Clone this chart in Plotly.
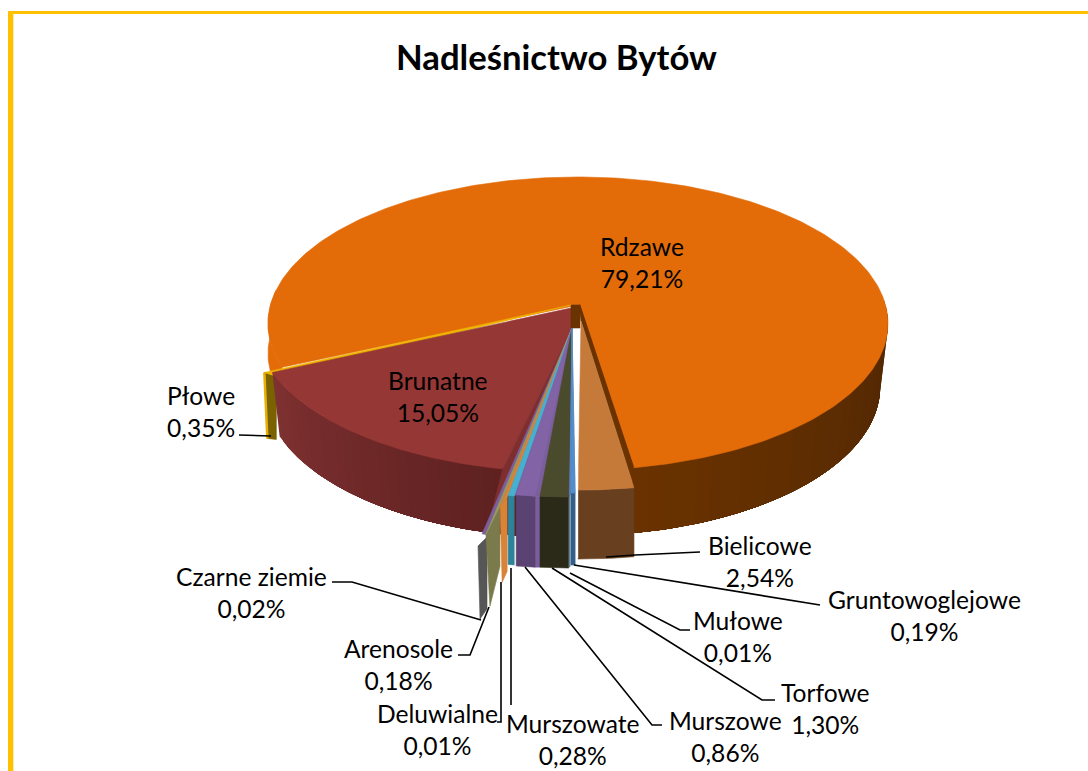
import math
import plotly.graph_objects as go

NAMES = ["Rdzawe", "Bielicowe", "Gruntowoglejowe", "Mułowe", "Torfowe", "Murszowe",
         "Murszowate", "Deluwialne", "Arenosole", "Czarne ziemie", "Brunatne", "Płowe"]
SHARES = [79.21, 2.54, 0.19, 0.01, 1.30, 0.86, 0.28, 0.01, 0.18, 0.02, 15.05, 0.35]

TOP = dict(zip(NAMES, ["#E36C09", "#C67A3A", "#4F8FCC", "#4F8FCC", "#4A4A2C", "#8263A6",
                       "#45B0CF", "#D98336", "#9A9A5C", "#5F5F5F", "#953735", "#F0B400"]))
SIDE = dict(zip(NAMES, ["#5E2E04", "#69401F", "#345F88", "#345F88", "#2B2A18", "#5A4273",
                        "#2E8299", "#D98336", "#7A7A4C", "#565656", "#6E2929", "#7A6200"]))

# screen placement: (rim dx, rim dy, apex dx, apex dy, wall dx, wall dy, height outer, height inner, bottom dx)
PLACE = {
    "Bielicowe":       (1, 20, 3, 16, 0, 0, 69, 69, 0),
    "Gruntowoglejowe": (-2, 23, -6, 23, 0, 0, 72, 72, 0),
    "Mułowe":          (-3, 25, -6, 23, 0, 0, 72, 72, 0),
    "Torfowe":         (-4, 27, -6, 23, 0, 0, 71, 71, 0),
    "Murszowe":        (-9, 27, -6, 23, 0, 0, 71, 71, 0),
    "Murszowate":      (-11, 28, -6, 23, 0, 0, 69, 69, 0),
    "Deluwialne":      (-19, 39, -6, 23, 7, -9, 76, 74, 2),
    "Arenosole":       (-33, 67, -6, 23, 14, -28, 72, 60, 4),
    "Czarne ziemie":   (-37, 79, -6, 23, 9, -9, 73, 72, 2),
    "Płowe":           (-20, 2, -7, 0, 12, 4, 66, 63, 3),
}
NO_TOP = {"Czarne ziemie"}

CX, AY, RX, RY, K = 578, 305, 307.5, 144.2, 0.1263
END_OF_FIRST = 171.0
DEPTH = 63

LABELS = [("Rdzawe<br>79,21%", 642, 262), ("Brunatne<br>15,05%", 438, 396),
          ("Płowe<br>0,35%", 201, 411), ("Bielicowe<br>2,54%", 760, 561),
          ("Gruntowoglejowe<br>0,19%", 924, 615), ("Mułowe<br>0,01%", 738, 636),
          ("Torfowe<br>1,30%", 825, 708), ("Murszowe<br>0,86%", 725, 736),
          ("Murszowate<br>0,28%", 572, 739), ("Deluwialne<br>0,01%", 437, 729),
          ("Arenosole<br>0,18%", 398, 664), ("Czarne ziemie<br>0,02%", 251, 592)]

LEADERS = [[(239, 435), (271, 436)],
           [(606, 557), (635, 555), (700, 552)],
           [(574, 565), (820, 605)],
           [(570, 573), (680, 630), (690, 630)],
           [(552, 568), (762, 700), (775, 700)],
           [(525, 567), (652, 725), (662, 725)],
           [(511, 568), (511, 705)],
           [(501, 582), (501, 722), (497, 722)],
           [(489, 607), (470, 655), (458, 655)],
           [(481, 620), (352, 582), (332, 582)]]


def rim(theta):
    a = math.radians(theta)
    u, v = math.sin(a), math.cos(a)
    s = 1 / (1 + K * v)
    return CX + RX * u * s, AY - RY * v * s


def base(theta):
    a = math.radians(theta)
    u, v = math.sin(a), math.cos(a)
    s = 1 / (1 + K * v)
    return CX + RX * u * s * 0.975, AY - RY * v * s * 0.96 + DEPTH * s


def mix(c0, c1, t):
    p = [int(c0[i:i + 2], 16) for i in (1, 3, 5)]
    q = [int(c1[i:i + 2], 16) for i in (1, 3, 5)]
    return "#%02X%02X%02X" % tuple(round(a + (b - a) * t) for a, b in zip(p, q))


def arc(f, t0, t1, n=None):
    n = n or max(2, int(abs(t1 - t0) * 2))
    return [f(t0 + (t1 - t0) * i / n) for i in range(n + 1)]


fig = go.Figure()


def poly(pts, color, name, lw=0.6):
    fig.add_trace(go.Scatter(x=[p[0] for p in pts] + [pts[0][0]], y=[p[1] for p in pts] + [pts[0][1]],
                             mode="lines", fill="toself", fillcolor=color,
                             line=dict(color=color, width=lw), name=name, hoverinfo="name",
                             showlegend=False))


def stroke(pts, color, width, name):
    fig.add_trace(go.Scatter(x=[p[0] for p in pts], y=[p[1] for p in pts], mode="lines",
                             line=dict(color=color, width=width), name=name, hoverinfo="skip",
                             showlegend=False))


# angular extents, clockwise from the back of the pie
spans = {}
start = END_OF_FIRST - SHARES[0] * 3.6
cur = start
for n, sh in zip(NAMES, SHARES):
    spans[n] = (cur, cur + sh * 3.6)
    cur += sh * 3.6


def gradient_side(name, t0, t1, c0, c1, shift=(0, 0), strips=30):
    # painter's order: every strip runs to the far end, so no seams appear between strips
    for i in range(strips):
        a = t0 + (t1 - t0) * i / strips
        up = arc(rim, a, t1, 40)
        low = arc(base, a, t1, 40)
        pts = [(x + shift[0], y + shift[1]) for x, y in up + low[::-1]]
        poly(pts, mix(c0, c1, (i + .5) / strips), name, 0)


def rim_of(name):
    t0, t1 = spans[name]
    rx, ry = PLACE[name][:2]
    return [(x + rx, y + ry) for x, y in arc(rim, t0, t1)]


def place_slice(name):
    rx, ry, ax, ay, wx, wy, h0, h1, bd = PLACE[name]
    outer = rim_of(name)
    apex = (CX + ax, AY + ay)
    if wx or wy:
        # radial wall face of a strongly pulled-out thin slice
        p = outer[0]
        q = (p[0] + wx, p[1] + wy)
        poly([p, q, (q[0], q[1] + h1), (p[0] + bd, p[1] + h0)], SIDE[name], name)
        if name not in NO_TOP:
            poly([apex, p, q], TOP[name], name)
    else:
        poly(outer + [(x, y + h0) for x, y in outer[::-1]], SIDE[name], name)
        poly([apex] + outer, TOP[name], name)


# Rdzawe
t0, t1 = spans["Rdzawe"]
gradient_side("Rdzawe", 88, t1, "#4E2604", "#6A3200")
left = arc(rim, t0, t0 + 30, 30)
poly(left + [(x, y + 30) for x, y in left[::-1]], TOP["Rdzawe"], "Rdzawe")
poly([(CX, AY)] + arc(rim, t0, t1, 300), TOP["Rdzawe"], "Rdzawe")
biel_rim = rim_of("Bielicowe")
poly([(CX + 1, AY), rim(t1), biel_rim[0], (CX + 3, AY + 16)], "#6B3300", "Rdzawe")
stroke([(CX + 1, AY), rim(t1)], "#693200", 2.5, "Rdzawe")

# Płowe
place_slice("Płowe")
pl = rim_of("Płowe")[0]
stroke([pl, (pl[0] + 3, pl[1] + 66)], "#E8B000", 2.5, "Płowe")

# Brunatne
bt0, bt1 = spans["Brunatne"]
BR = (-12, 2)
gradient_side("Brunatne", bt1, bt0 - 4.5, "#7F3131", "#5C1F1F", BR)
brim = [(x + BR[0], y + BR[1]) for x, y in arc(rim, bt0, bt1, 80)]
poly([(CX - 7, AY + 3)] + brim[::-1] + [(CX - 5, AY + 21)], TOP["Brunatne"], "Brunatne")

# inner wall of Brunatne, seen up against the thin pulled-out strip
poly([(CX - 5, AY + 21), brim[0], rim_of("Arenosole")[0]], "#7E2E2E", "Brunatne")

# apex wall of the biggest slice
poly([(CX - 7, AY), (CX + 2, AY), (CX + 2, AY + 23), (CX - 7, AY + 23)], "#6B3300", "Rdzawe")

# filler seen between the pulled-out small slices
small = ["Gruntowoglejowe", "Mułowe", "Torfowe", "Murszowe", "Murszowate", "Deluwialne", "Arenosole"]
filler = [(CX - 6, AY + 23)]
for nm in small:
    filler += rim_of(nm)
poly(filler, "#7A5F9C", "Murszowe")
mur = rim_of("Murszowe")[0]
tor = rim_of("Torfowe")[-1]
poly([mur, tor, (tor[0], tor[1] + 71), (mur[0], mur[1] + 71)], "#7A5F9C", "Murszowe")

for nm in ["Czarne ziemie", "Arenosole", "Deluwialne", "Murszowate", "Murszowe", "Torfowe",
           "Mułowe", "Gruntowoglejowe"]:
    place_slice(nm)

# Bielicowe with its light left edge
place_slice("Bielicowe")
bi = rim(spans["Bielicowe"][1])
stroke([(bi[0], bi[1] - 100), (bi[0], bi[1] + 20), (bi[0], bi[1] + 88)], "#FFFFFF", 2, "Bielicowe")

shapes = [
    dict(type="rect", xref="x", yref="y", x0=8, x1=13.3, y0=11, y1=771, fillcolor="#FFC000", line_width=0),
    dict(type="rect", xref="x", yref="y", x0=8, x1=1088, y0=11, y1=14, fillcolor="#FFC000", line_width=0),
]
for pts in LEADERS:
    shapes.append(dict(type="path", xref="x", yref="y",
                       path="M " + " L ".join(f"{x} {y}" for x, y in pts),
                       line=dict(color="#000000", width=1.6)))

ann = [dict(x=x, y=y, text=t, showarrow=False, xref="x", yref="y", xanchor="center", yanchor="middle",
            font=dict(family="Lato", size=24.6, color="#000000")) for t, x, y in LABELS]
ann.append(dict(x=556, y=56, text="<b>Nadleśnictwo Bytów</b>", showarrow=False, xref="x", yref="y",
                xanchor="center", yanchor="middle", font=dict(family="Lato", size=34.7, color="#000000")))

fig.update_layout(width=1088, height=771, margin=dict(l=0, r=0, t=0, b=0),
                  paper_bgcolor="#FFFFFF", plot_bgcolor="#FFFFFF", showlegend=False,
                  xaxis=dict(range=[0, 1088], visible=False, fixedrange=True),
                  yaxis=dict(range=[771, 0], visible=False, fixedrange=True),
                  shapes=shapes, annotations=ann)

fig.write_html("out.html", post_script="document.body.style.margin='0';",
               config=dict(displayModeBar=False))
